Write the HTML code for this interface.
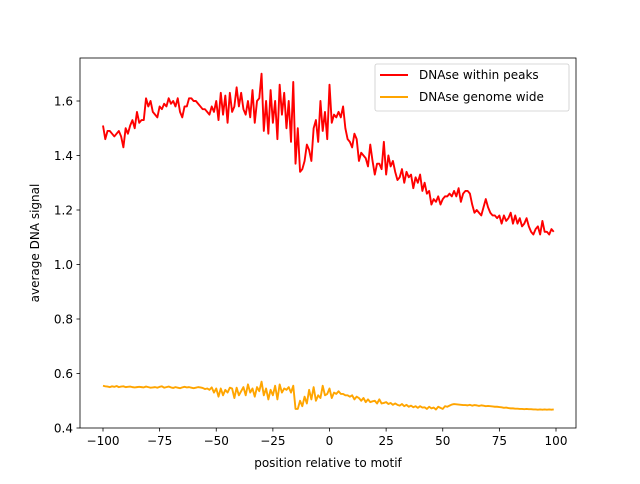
<!DOCTYPE html>
<html><head><meta charset="utf-8"><style>
body{margin:0;background:#fff;font-family:"DejaVu Sans","Liberation Sans",sans-serif}
svg text{font-family:"DejaVu Sans","Liberation Sans",sans-serif;font-size:12px;fill:#000}
</style></head><body>
<svg id="chart" width="640" height="480" xmlns="http://www.w3.org/2000/svg">
<rect width="640" height="480" fill="#fff"/>
<g id="plot"></g>
</svg>
<script>
const xTicks=[-100,-75,-50,-25,0,25,50,75,100];
const yTicks=[0.4,0.6,0.8,1.0,1.2,1.4,1.6];
const yTickLabels=["0.4","0.6","0.8","1.0","1.2","1.4","1.6"];
const positions=[];for(let i=-100;i<=99;i++)positions.push(i);
const peaksSignal=[1.51,1.46,1.49,1.49,1.48,1.47,1.48,1.49,1.47,1.43,
1.50,1.48,1.51,1.53,1.50,1.56,1.52,1.53,1.53,1.61,
1.58,1.60,1.56,1.55,1.54,1.58,1.57,1.59,1.58,1.61,
1.59,1.60,1.58,1.61,1.56,1.54,1.58,1.58,1.61,1.61,
1.60,1.60,1.59,1.58,1.57,1.57,1.56,1.55,1.58,1.56,
1.60,1.53,1.63,1.55,1.62,1.52,1.63,1.56,1.58,1.65,
1.58,1.63,1.57,1.55,1.60,1.54,1.64,1.52,1.60,1.61,
1.70,1.49,1.60,1.48,1.64,1.52,1.60,1.46,1.66,1.55,
1.63,1.50,1.60,1.45,1.67,1.37,1.50,1.34,1.35,1.38,
1.44,1.42,1.38,1.50,1.53,1.45,1.60,1.49,1.56,1.46,
1.66,1.52,1.55,1.54,1.56,1.54,1.58,1.50,1.46,1.45,
1.43,1.48,1.46,1.38,1.41,1.40,1.39,1.36,1.44,1.38,
1.33,1.37,1.37,1.35,1.45,1.33,1.40,1.36,1.38,1.34,
1.31,1.32,1.35,1.30,1.34,1.32,1.33,1.28,1.32,1.30,
1.33,1.27,1.30,1.26,1.27,1.22,1.24,1.23,1.25,1.22,
1.24,1.25,1.25,1.26,1.25,1.27,1.25,1.28,1.23,1.26,
1.27,1.27,1.26,1.22,1.19,1.20,1.19,1.18,1.21,1.24,
1.21,1.19,1.18,1.18,1.17,1.18,1.15,1.18,1.16,1.17,
1.19,1.15,1.18,1.15,1.17,1.14,1.15,1.17,1.14,1.12,
1.11,1.13,1.14,1.11,1.16,1.12,1.12,1.11,1.13,1.12];
const genomeSignal=[.555,.553,.552,.550,.553,.551,.554,.550,.552,.553,
.550,.551,.552,.550,.549,.550,.551,.550,.549,.552,
.550,.548,.549,.550,.548,.551,.553,.548,.550,.552,
.549,.547,.550,.548,.546,.549,.551,.549,.550,.548,
.546,.548,.550,.549,.547,.543,.545,.540,.549,.530,
.545,.515,.545,.520,.540,.530,.548,.545,.510,.548,
.520,.535,.550,.520,.560,.530,.545,.515,.550,.535,
.570,.520,.545,.505,.540,.520,.555,.505,.560,.530,
.545,.540,.550,.530,.555,.470,.470,.500,.480,.515,
.490,.540,.505,.550,.500,.520,.510,.555,.520,.525,
.545,.510,.530,.525,.535,.525,.525,.520,.520,.515,
.520,.505,.515,.510,.500,.510,.495,.505,.495,.498,
.500,.490,.505,.490,.492,.495,.488,.492,.485,.490,
.485,.482,.488,.480,.485,.478,.482,.476,.480,.474,
.480,.475,.476,.470,.478,.472,.475,.468,.478,.474,
.470,.480,.478,.482,.486,.488,.487,.486,.485,.484,
.484,.483,.485,.482,.484,.483,.481,.483,.482,.480,
.481,.480,.479,.478,.478,.477,.476,.474,.475,.473,
.472,.472,.471,.471,.470,.470,.469,.470,.469,.469,
.468,.468,.467,.468,.467,.468,.467,.468,.467,.468];
const L=80,R=576,T=58,B=428;
const xs=v=>329.5+(v/100)*226.5;
const ys=v=>428-(v-0.4)*272.5;
const NS='http://www.w3.org/2000/svg';
const g=document.getElementById('plot');
function mk(tag,attrs,parent){const e=document.createElementNS(NS,tag);for(const k in attrs)e.setAttribute(k,attrs[k]);(parent||g).appendChild(e);return e;}
function line(vals,color,name){
  const d=vals.map((v,i)=>(i?'L':'M')+xs(positions[i]).toFixed(2)+','+ys(v).toFixed(2)).join('');
  const p=mk('path',{d:d,fill:'none',stroke:color,'stroke-width':1.9,'stroke-linejoin':'round'});
  
  
}
line(peaksSignal,'#ff0000','series-dnase-within-peaks');
line(genomeSignal,'#ffa500','series-dnase-genome-wide');
const frame=mk('rect',{x:L,y:T,width:R-L,height:B-T,fill:'none',stroke:'#000','stroke-width':0.8});


xTicks.forEach(t=>{
  const x=xs(t);
  mk('line',{x1:x,x2:x,y1:B,y2:B+3.5,stroke:'#000','stroke-width':0.8});
  const tx=mk('text',{x:x,y:B+17,'text-anchor':'middle'});tx.textContent=(t<0?'\u2212'+(-t):t);
  
  
});
yTicks.forEach((t,i)=>{
  const y=ys(t);
  mk('line',{x1:L-3.5,x2:L,y1:y,y2:y,stroke:'#000','stroke-width':0.8});
  const tx=mk('text',{x:L-7,y:y+4.5,'text-anchor':'end'});tx.textContent=yTickLabels[i];
  
  
});
const xt=mk('text',{x:328,y:467,'text-anchor':'middle'});xt.textContent='position relative to motif';


const yt=mk('text',{x:39,y:243,'text-anchor':'middle',transform:'rotate(-90 39 243)'});yt.textContent='average DNA signal';


const lg=mk('g',{});


mk('rect',{x:375,y:64,width:194,height:47,rx:2,fill:'#fff','fill-opacity':0.8,stroke:'#ccc','stroke-width':0.8},lg);
mk('line',{x1:380,x2:408,y1:75,y2:75,stroke:'#ff0000','stroke-width':1.9},lg);
const l1=mk('text',{x:419,y:79},lg);l1.textContent='DNAse within peaks';


mk('line',{x1:380,x2:408,y1:97,y2:97,stroke:'#ffa500','stroke-width':1.9},lg);
const l2=mk('text',{x:419,y:101},lg);l2.textContent='DNAse genome wide';


</script>
</body></html>
